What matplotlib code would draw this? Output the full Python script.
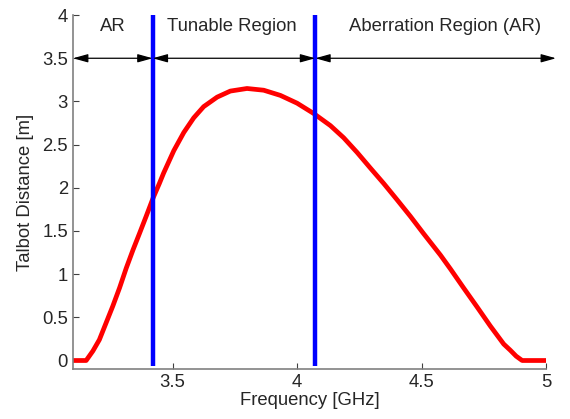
import numpy as np
import matplotlib.pyplot as plt

plt.rcParams['font.family'] = ['Liberation Sans', 'DejaVu Sans']

# Talbot distance vs frequency
freq = [3.10, 3.153, 3.18, 3.206, 3.233, 3.26, 3.287, 3.314, 3.341, 3.367,
        3.394, 3.423, 3.447, 3.464, 3.505, 3.545, 3.585, 3.625, 3.679, 3.732,
        3.799, 3.866, 3.933, 4.0, 4.067, 4.134, 4.187, 4.241, 4.294, 4.348,
        4.402, 4.455, 4.508, 4.576, 4.616, 4.669, 4.723, 4.776, 4.83, 4.856,
        4.88, 4.904, 5.0]
talbot = [0.0, 0.0, 0.11, 0.24, 0.435, 0.63, 0.84, 1.07, 1.28, 1.47,
          1.67, 1.89, 2.05, 2.17, 2.43, 2.64, 2.81, 2.94, 3.05, 3.12,
          3.15, 3.13, 3.07, 2.98, 2.86, 2.72, 2.58, 2.41, 2.23, 2.05,
          1.86, 1.67, 1.47, 1.22, 1.06, 0.84, 0.62, 0.40, 0.19, 0.12,
          0.05, 0.0, 0.0]

f_low = 3.42
f_high = 4.073

regions = [(3.1, f_low, 'AR'), (f_low, f_high, 'Tunable Region'), (f_high, 5.04, 'Aberration Region (AR)')]
label_x = [3.26, 3.737, 4.595]

fig = plt.figure(figsize=(5.7, 4.19), dpi=100)
ax = fig.add_axes([0.128, 0.119, 0.83, 0.845])

ax.plot(freq, talbot, color='red', lw=3.4, solid_joinstyle='round', solid_capstyle='butt')
ax.plot([f_low, f_low], [-0.06, 4], color='blue', lw=3.2, solid_capstyle='butt')
ax.plot([f_high, f_high], [-0.06, 4], color='blue', lw=3.2, solid_capstyle='butt')

for (a, b, name), lx in zip(regions, label_x):
    ax.annotate('', xy=(b, 3.5), xytext=(a, 3.5), annotation_clip=False,
                arrowprops=dict(arrowstyle='<|-|>,head_length=0.9,head_width=0.25',
                                color='black', lw=0.9, shrinkA=0, shrinkB=0,
                                mutation_scale=10))
    ax.text(lx, 3.87, name, ha='center', va='center', fontsize=13.3, color='#262626')

ax.set_xlim(3.1, 5)
ax.set_ylim(-0.1, 4)
ax.set_xticks([3.5, 4, 4.5, 5])
ax.set_xticklabels(['3.5', '4', '4.5', '5'])
ax.set_yticks(np.arange(0, 4.01, 0.5))
ax.set_yticklabels(['0', '0.5', '1', '1.5', '2', '2.5', '3', '3.5', '4'])
ax.tick_params(direction='in', length=4, labelsize=13.3, colors='#262626')
ax.tick_params(color='#404040')
ax.spines['top'].set_visible(False)
ax.spines['right'].set_visible(False)
ax.spines['left'].set_color('#808080')
ax.spines['bottom'].set_color('#808080')
ax.spines['left'].set_linewidth(1.2)
ax.spines['bottom'].set_linewidth(1.2)
ax.set_xlabel('Frequency [GHz]', fontsize=13.3, color='#262626', labelpad=1)
ax.set_ylabel('Talbot Distance [m]', fontsize=13.3, color='#262626', labelpad=6)

fig.savefig('out.png', dpi=100)
